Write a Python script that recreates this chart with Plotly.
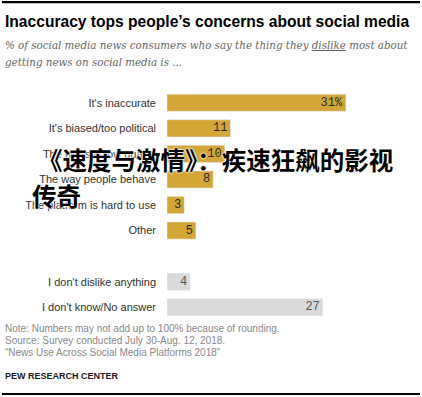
import plotly.graph_objects as go

W, H = 422, 397

categories = ["It's inaccurate", "It's biased/too political", "The news is low quality",
              "The way people behave", "The platform is hard to use", "Other",
              " ", "I don't dislike anything", "I don't know/No answer"]
gold_cats = categories[:6]
gold_vals = [31, 11, 10, 8, 3, 5]
gray_cats = categories[7:]
gray_vals = [4, 27]

title = "Inaccuracy tops people\u2019s concerns about social media"
subtitle = ["% of social media news consumers who say the thing they <u>dislike</u> most about",
            "getting news on social media is ..."]
notes = ["Note: Numbers may not add up to 100% because of rounding.",
         "Source: Survey conducted July 30-Aug. 12, 2018.",
         "\u201cNews Use Across Social Media Platforms 2018\u201d"]
credit = "PEW RESEARCH CENTER"
watermark = ["《速度与激情》：疾速狂飙的影视", "传奇"]

def px(x):
    return x / W

def py(y):
    return 1 - y / H

gold_text = [f"{v}%" if i == 0 else f"{v}" for i, v in enumerate(gold_vals)]
gray_text = [f"{v}" for v in gray_vals]

fig = go.Figure()
fig.add_trace(go.Bar(
    y=gold_cats, x=gold_vals, orientation="h", marker_color="#d4a636",
    text=gold_text, textposition="inside", insidetextanchor="end", textangle=0,
    constraintext="none",
    textfont=dict(family="Liberation Mono", size=12, color="#2a2a2a"),
    hoverinfo="skip"))
fig.add_trace(go.Bar(
    y=gray_cats, x=gray_vals, orientation="h", marker_color="#d9d9d9",
    text=gray_text, textposition="inside", insidetextanchor="end", textangle=0,
    constraintext="none",
    textfont=dict(family="Liberation Mono", size=12, color="#555555"),
    hoverinfo="skip"))

fig.update_layout(
    width=W, height=H, margin=dict(l=0, r=0, t=0, b=0, pad=0),
    paper_bgcolor="white", plot_bgcolor="white", showlegend=False,
    bargap=0.33, barmode="overlay",
    xaxis=dict(domain=[px(167), 1], range=[0, 255 / 5.77], visible=False,
               fixedrange=True, automargin=False),
    yaxis=dict(domain=[py(320), py(90)], type="category", categoryorder="array",
               categoryarray=categories, autorange="reversed", automargin=False,
               showgrid=False, zeroline=False, showline=False, ticks="",
               ticklabelstandoff=10, fixedrange=True,
               tickfont=dict(family="Liberation Sans", size=11, color="#333333")),
)

ann = []
def add(x, y, text, font):
    ann.append(dict(x=px(x), y=py(y), xref="paper", yref="paper", text=text,
                    showarrow=False, xanchor="left", yanchor="middle", font=font))

add(3, 22, f"<b>{title}</b>", dict(family="Liberation Sans", size=15.6, color="#000000"))
for i, line in enumerate(subtitle):
    add(3, 45 + 17 * i, f"<i>{line}</i>", dict(family="DejaVu Serif", size=10.3, color="#666666"))
for i, line in enumerate(notes):
    add(3, 328 + 12 * i, line, dict(family="Liberation Sans", size=10, color="#8a8a8a"))
add(3, 376, f"<b>{credit}</b>", dict(family="Liberation Sans", size=9, color="#1a1a1a"))
for line, x0, yc in zip(watermark, [36, 30], [159, 195]):
    add(x0, yc, f"<b>{line}</b>",
        dict(family="Noto Sans CJK SC", size=24.5, color="#000000",
             shadow="0 0 2px white, 0 0 2px white, 0 0 2px white"))

# top and bottom rules as thin filled annotation boxes
for yy in (2.5, 394):
    ann.append(dict(x=px(2), y=py(yy), xref="paper", yref="paper", text="&nbsp;",
                    showarrow=False, xanchor="left", yanchor="middle",
                    width=418, height=2, bgcolor="#000000", borderpad=0,
                    borderwidth=0, font=dict(size=1, color="#000000")))

shapes = [
    dict(type="line", xref="paper", yref="paper", x0=px(2), x1=px(420),
         y0=py(2.5), y1=py(2.5), layer="above", line=dict(color="#000000", width=1.6)),
    dict(type="line", xref="paper", yref="paper", x0=px(2), x1=px(420),
         y0=py(394), y1=py(394), layer="above", line=dict(color="#000000", width=1.6)),
]
fig.update_layout(annotations=ann, shapes=shapes)

fig.write_html("out.html", config={"displayModeBar": False},
               post_script="document.body.style.margin='0';document.body.style.overflow='hidden';")
